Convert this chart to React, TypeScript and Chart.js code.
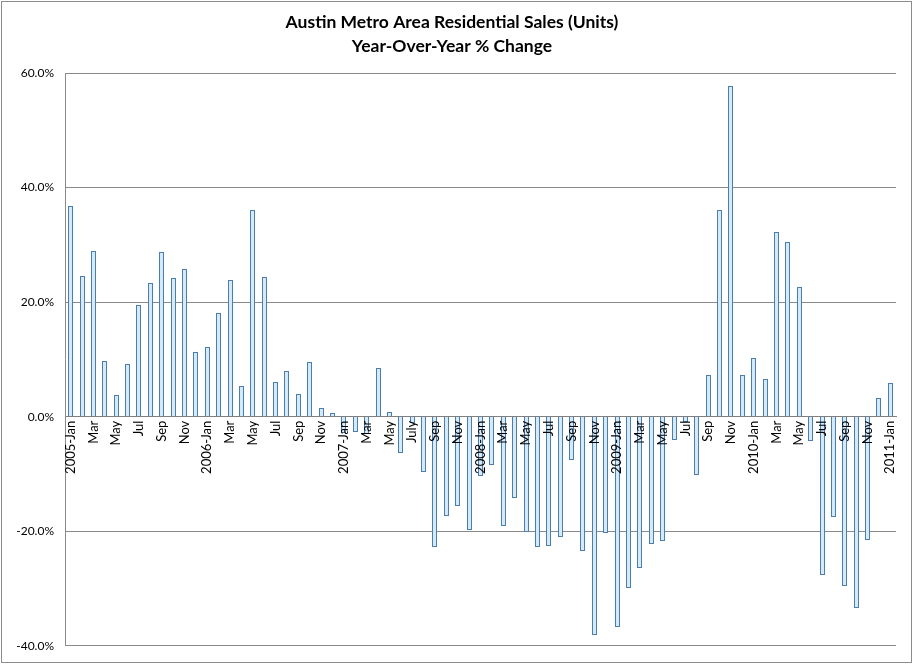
import React, { useEffect, useRef } from "react";
import { Chart, registerables } from "chart.js";

Chart.register(...registerables);

const titleLines = ["Austin Metro Area Residential Sales (Units)", "Year-Over-Year % Change"];

const categories = [
  "2005-Jan", "Feb", "Mar", "Apr", "May", "Jun", "Jul", "Aug", "Sep", "Oct", "Nov", "Dec",
  "2006-Jan", "Feb", "Mar", "Apr", "May", "Jun", "Jul", "Aug", "Sep", "Oct", "Nov", "Dec",
  "2007-Jan", "Feb", "Mar", "Apr", "May", "Jun", "July", "Aug", "Sep", "Oct", "Nov", "Dec",
  "2008-Jan", "Feb", "Mar", "Apr", "May", "Jun", "Jul", "Aug", "Sep", "Oct", "Nov", "Dec",
  "2009-Jan", "Feb", "Mar", "Apr", "May", "Jun", "Jul", "Aug", "Sep", "Oct", "Nov", "Dec",
  "2010-Jan", "Feb", "Mar", "Apr", "May", "Jun", "Jul", "Aug", "Sep", "Oct", "Nov", "Dec",
  "2011-Jan",
];

const yoyChange = [
  36.8, 24.6, 28.9, 9.7, 3.8, 9.2, 19.5, 23.3, 28.7, 24.2, 25.8, 11.3,
  12.2, 18.1, 23.8, 5.4, 36.0, 24.4, 6.0, 8.0, 4.0, 9.5, 1.5, 0.6,
  -2.8, -2.7, -3.0, 8.5, 0.8, -6.3, -1.1, -9.6, -22.7, -17.4, -15.6, -19.8,
  -10.3, -8.5, -19.1, -14.2, -20.1, -22.7, -22.5, -21.0, -7.6, -23.4, -38.2, -20.3,
  -36.7, -29.9, -26.4, -22.2, -21.7, -4.1, -0.9, -10.2, 7.2, 36.0, 57.7, 7.2,
  10.2, 6.6, 32.2, 30.5, 22.6, -4.2, -27.6, -17.5, -29.5, -33.4, -21.5, 3.3,
  5.8,
];

const yTicks = [-40, -20, 0, 20, 40, 60];

const FONT = "Lato, 'Open Sans', sans-serif";

export default function App() {
  const ref = useRef<HTMLCanvasElement | null>(null);

  useEffect(() => {
    if (!ref.current) return;
    const framePlugin = {
      id: "frame",
      beforeDraw(chart: any) {
        const { ctx, width, height } = chart;
        ctx.save();
        ctx.fillStyle = "#ffffff";
        ctx.fillRect(0, 0, width, height);
        ctx.restore();
      },
      beforeDatasetsDraw(chart: any) {
        // snap bar edges to whole pixels so the outlines stay crisp
        chart.getDatasetMeta(0).data.forEach((el: any) => {
          const w = 5;
          const left = Math.round(el.x - w / 2);
          el.width = w;
          el.x = left + w / 2;
          el.y = Math.round(el.y);
          el.base = Math.round(el.base);
        });
      },
      afterDraw(chart: any) {
        const { ctx, width, height } = chart;
        ctx.save();
        ctx.strokeStyle = "#8c8c8c";
        ctx.lineWidth = 1;
        ctx.strokeRect(1.5, 1.5, width - 3, height - 3);
        ctx.restore();
      },
    };
    const chart = new Chart(ref.current, {
      type: "bar",
      data: {
        labels: categories,
        datasets: [
          {
            data: yoyChange,
            backgroundColor: "#d5eaf8",
            borderColor: "#4a7db0",
            borderWidth: 1,
            barPercentage: 0.46,
            categoryPercentage: 1,
          },
        ],
      },
      plugins: [framePlugin],
      options: {
        animation: false,
        responsive: false,
        maintainAspectRatio: false,
        layout: { padding: { left: 8, right: 17, top: 0, bottom: 18 } },
        plugins: {
          legend: { display: false },
          tooltip: { enabled: false },
          title: {
            display: true,
            text: titleLines,
            color: "#000",
            font: { family: FONT, size: 17.5, weight: "bold", lineHeight: 24 / 17.5 },
            padding: { top: 10, bottom: 15 },
          },
        },
        scales: {
          x: {
            position: { y: 0 } as any,
            grid: { display: false, drawTicks: false },
            border: { display: true, color: "#7f7f7f" },
            ticks: {
              z: 1,
              autoSkip: false,
              minRotation: 90,
              maxRotation: 90,
              padding: 4,
              color: "#000",
              font: { family: FONT, size: 13 },
              callback: (_v: any, i: number) => (i % 2 === 0 ? categories[i] : ""),
            },
          },
          y: {
            min: -40,
            max: 60,
            afterFit: (s: any) => {
              s.width = 57;
            },
            afterBuildTicks: (s: any) => {
              s.ticks = yTicks.map((v) => ({ value: v }));
            },
            grid: { color: "#8a8a8a", drawTicks: false },
            border: { display: true, color: "#8a8a8a" },
            ticks: {
              padding: 11,
              color: "#000",
              font: { family: FONT, size: 12 },
              callback: (v: any) => Number(v).toFixed(1) + "%",
            },
          },
        },
      },
    });
    return () => chart.destroy();
  }, []);

  return (
    <div style={{ position: "fixed", left: 0, top: 0, width: 913, height: 664 }}>
      <canvas ref={ref} width={913} height={664} style={{ width: 913, height: 664 }} />
    </div>
  );
}
